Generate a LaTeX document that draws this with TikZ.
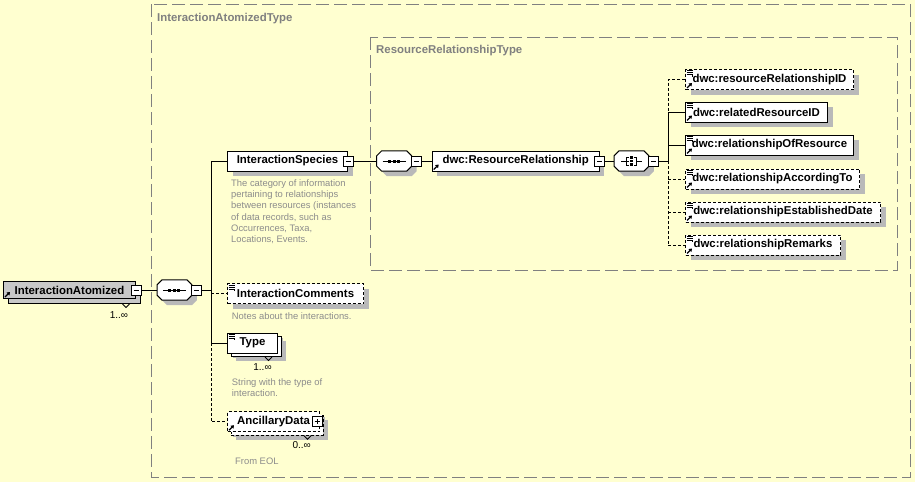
\documentclass[tikz,border=0pt]{standalone}
\usepackage{fontspec}
\setmainfont{Liberation Sans}
\usetikzlibrary{shadows,arrows.meta,calc}

\definecolor{bgyellow}{RGB}{255,255,208}
\definecolor{boxgrey}{RGB}{128,128,128}
\definecolor{shgrey}{RGB}{185,185,185}
\definecolor{rootgrey}{RGB}{200,200,200}
\definecolor{docgrey}{RGB}{140,140,140}

\newcommand{\lblfont}{\fontsize{11.4}{13}\selectfont\bfseries}
\newcommand{\docfont}{\fontsize{9.4}{11.2}\selectfont}
\newcommand{\occfont}{\fontsize{10}{12}\selectfont}

% chamfered outline of a compositor, built from the corners of a named node
\newcommand{\octpath}[2]{%
  \path[#2] ($(#1.north west)+(5,0)$) -- ($(#1.north east)+(-5,0)$)
    -- ($(#1.north east)+(0,5)$) -- ($(#1.south east)+(0,-5)$)
    -- ($(#1.south east)+(-5,0)$) -- ($(#1.south west)+(5,0)$)
    -- ($(#1.south west)+(0,-5)$) -- ($(#1.north west)+(0,5)$) -- cycle;}
\newcommand{\compbody}[1]{%
  \octpath{#1}{fill=shgrey, transform canvas={shift={(5pt,-5pt)}}}%
  \octpath{#1}{draw, fill=white, line width=1pt}}
% sequence compositor symbol
\newcommand{\seqicon}[1]{%
  \draw[line width=1pt] ($(#1.west)+(6,0)$) -- ($(#1.east)+(-6,0)$);
  \foreach \dx in {-4.5,0,4.5}
    \fill ($(#1.center)+(\dx,0)+(-1.5,-1.5)$) rectangle +(3,3);}
% "all" compositor symbol
\newcommand{\allicon}[1]{%
  \draw[line width=1pt] ($(#1.west)+(7,0)$) -- ($(#1.center)+(-2.5,0)$);
  \draw[line width=1pt] ($(#1.center)+(-2.5,-4)$) -- ($(#1.center)+(-5,-4)$)
    -- ($(#1.center)+(-5,4)$) -- ($(#1.center)+(-2.5,4)$);
  \draw[line width=1pt] ($(#1.center)+(2.5,-4)$) -- ($(#1.center)+(5,-4)$)
    -- ($(#1.center)+(5,4)$) -- ($(#1.center)+(2.5,4)$);
  \draw[line width=1pt] ($(#1.center)+(5,0)$) -- ($(#1.east)+(-7,0)$);
  \foreach \dy in {-3.5,0,3.5}
    \fill ($(#1.center)+(0,\dy)+(-1.2,-1.2)$) rectangle +(2.4,2.4);}
% simple-content mark (top left) and reference arrow (bottom left)
\newcommand{\docicon}[1]{%
  \draw[line width=0.9pt]
    ($(#1.north west)+(1.5,1.8)$) -- +(6,0)
    ($(#1.north west)+(1.5,3.8)$) -- +(6,0)
    ($(#1.north west)+(1.5,5.8)$) -- +(5.5,0) -- +(5.5,2);}
\newcommand{\reficon}[1]{%
  \draw[line width=1.2pt, -{Triangle[length=3pt,width=4pt]}]
    ($(#1.south west)+(2,-2)$) -- +(5,-5);}
% occurrence notch under a stacked box
\newcommand{\notch}[3]{%
  \draw[line width=0.8pt] ($(#1.south east)+(#2,#3)$) -- +(3.5,3.5) -- +(7,0);}

\begin{document}
\begin{tikzpicture}[x=1pt,y=-1pt,
  conn/.style={line width=1pt},
  optline/.style={dash pattern=on 3pt off 2pt},
  elembase/.style={draw, line width=1pt, fill=white, inner sep=0pt, anchor=west,
    minimum height=20pt, font=\lblfont},
  elem/.style={elembase, general shadow={fill=shgrey, shadow xshift=5pt, shadow yshift=-5pt}},
  optelem/.style={elem, optline},
  stacked/.style={general shadow={fill=shgrey, shadow xshift=8pt, shadow yshift=-8pt},
    general shadow={fill=white, draw=black, line width=1pt, shadow xshift=3.5pt, shadow yshift=-3.5pt}},
  optstacked/.style={general shadow={fill=shgrey, shadow xshift=8pt, shadow yshift=-8pt},
    general shadow={fill=white, draw=black, line width=1pt, optline, shadow xshift=3.5pt, shadow yshift=-3.5pt}},
  rootelem/.style={elembase, fill=rootgrey, minimum height=17pt,
    general shadow={fill=rootgrey, draw=black, line width=1pt, shadow xshift=5pt, shadow yshift=-5pt}},
  minusbox/.style={draw, fill=white, line width=0.8pt, minimum size=10pt, inner sep=0pt,
    path picture={\draw[line width=1pt] ([xshift=2.5pt]path picture bounding box.west)
      -- ([xshift=-2.5pt]path picture bounding box.east);}},
  plusbox/.style={draw, fill=white, line width=0.8pt, minimum size=10pt, inner sep=0pt,
    path picture={\draw[line width=1pt] ([xshift=2.5pt]path picture bounding box.west)
      -- ([xshift=-2.5pt]path picture bounding box.east)
      ([yshift=2.5pt]path picture bounding box.south) -- ([yshift=-2.5pt]path picture bounding box.north);}},
  compnode/.style={minimum width=34.5pt, minimum height=20pt, inner sep=0pt, anchor=west},
  doctext/.style={font=\docfont, text=docgrey, align=left, inner sep=0pt, anchor=base west},
  occ/.style={font=\occfont, inner sep=0pt},
  contline/.style={draw=boxgrey, line width=1pt, dash pattern=on 13pt off 5pt},
  contlabel/.style={font=\lblfont, text=boxgrey, inner sep=0pt, anchor=base west},
]
% canvas
\fill[bgyellow] (0,0) rectangle (915,482);
\useasboundingbox (0,0) rectangle (915,482);

% type containers
\draw[contline] (151,4) rectangle (910,477);
\node[contlabel] (tIA) at (157,21) {InteractionAtomizedType};
\draw[contline] (370,37) rectangle (897,270);
\node[contlabel] (tRR) at (376,53.5) {ResourceRelationshipType};

% root element
\node[rootelem, minimum width=132pt] (IA) at (3,290) {InteractionAtomized};
\notch{IA}{-13.5}{5}
\node[occ] (IAo) at (119,315) {1..∞};

% content of InteractionAtomizedType
\node[compnode] (seqA) at (157,290) {};
\node[elem, minimum width=120pt] (IS) at (227,161) {InteractionSpecies};
\node[optelem, minimum width=136pt] (IC) at (227,293.7) {InteractionComments};
\node[elem, stacked, minimum width=50pt] (Ty) at (227,343) {Type};
\notch{Ty}{-13}{3.5}
\node[occ] (Tyo) at (262.5,367) {1..∞};
\node[optelem, optstacked, minimum width=92pt] (AD) at (227,421.7) {AncillaryData};
\notch{AD}{-16}{3.5}
\node[occ] (ADo) at (301.7,445) {0..∞};

% annotations (anchored at the baseline of their last line)
\node[doctext] (ISd) at (231,242.5) {The category of information\\pertaining to relationships\\between resources (instances\\of data records, such as\\Occurrences, Taxa,\\Locations, Events.};
\node[doctext] (ICd) at (231.7,319.3) {Notes about the interactions.};
\node[doctext] (Tyd) at (231.7,396.5) {String with the type of\\interaction.};
\node[doctext] (ADd) at (235,464.5) {From EOL};

% content of ResourceRelationshipType
\node[compnode] (seqB) at (376.7,161) {};
\node[elem, minimum width=167pt] (RR) at (431.7,161) {dwc:ResourceRelationship};
\node[compnode] (allC) at (614,161) {};
\node[optelem, minimum width=168pt] (R1) at (685,79.5) {dwc:resourceRelationshipID};
\node[elem, minimum width=142pt] (R2) at (685,112) {dwc:relatedResourceID};
\node[elem, minimum width=168pt] (R3) at (685,145) {dwc:relationshipOfResource};
\node[optelem, minimum width=174pt] (R4) at (685,179) {dwc:relationshipAccordingTo};
\node[optelem, minimum width=195pt] (R5) at (685,212) {dwc:relationshipEstablishedDate};
\node[optelem, minimum width=155pt] (R6) at (685,245) {dwc:relationshipRemarks};

% compositors
\compbody{seqA} \seqicon{seqA}
\compbody{seqB} \seqicon{seqB}
\compbody{allC} \allicon{allC}

% expand / collapse toggles
\node[minusbox] (IAm) at (IA.east) {};
\node[minusbox] (ISm) at (IS.east) {};
\node[minusbox] (RRm) at (RR.east) {};
\node[plusbox] (ADm) at ([xshift=-3pt]AD.east) {};
\node[minusbox, anchor=west] (seqAm) at ([xshift=-1pt]seqA.east) {};
\node[minusbox, anchor=west] (seqBm) at ([xshift=-1pt]seqB.east) {};
\node[minusbox, anchor=west] (allCm) at ([xshift=-1pt]allC.east) {};

% element marks
\foreach \n in {R1,R2,R3,R4,R5,R6,IC,Ty} {\docicon{\n}}
\foreach \n in {IA,RR,R1,R2,R3,R4,R5,R6,AD} {\reficon{\n}}

% connectors
\coordinate (lt) at (211,0);
\coordinate (rt) at (668,0);
\draw[conn] (IAm.east) -- (seqA.west);
\draw[conn] (seqAm.east) -- (seqAm.east -| lt);
\draw[conn] (IS.west -| lt) -- (IS.west);
\draw[conn] (IS.west -| lt) -- (Ty.west -| lt);
\draw[conn] (Ty.west -| lt) -- (Ty.west);
\draw[conn, optline] (IC.west -| lt) -- (IC.west);
\draw[conn, optline] (Ty.west -| lt) -- (AD.west -| lt) -- (AD.west);

\draw[conn] (ISm.east) -- (seqB.west);
\draw[conn] (seqBm.east) -- (RR.west);
\draw[conn] (RRm.east) -- (allC.west);
\draw[conn] (allCm.east) -- (allCm.east -| rt);
\draw[conn, optline] (R1.west) -- (R1.west -| rt) -- (R2.west -| rt);
\draw[conn] (R2.west -| rt) -- (allCm.east -| rt);
\draw[conn] (R2.west -| rt) -- (R2.west);
\draw[conn] (R3.west -| rt) -- (R3.west);
\draw[conn, optline] (allCm.east -| rt) -- (R6.west -| rt);
\draw[conn, optline] (R4.west -| rt) -- (R4.west);
\draw[conn, optline] (R5.west -| rt) -- (R5.west);
\draw[conn, optline] (R6.west -| rt) -- (R6.west);
\end{tikzpicture}
\end{document}
